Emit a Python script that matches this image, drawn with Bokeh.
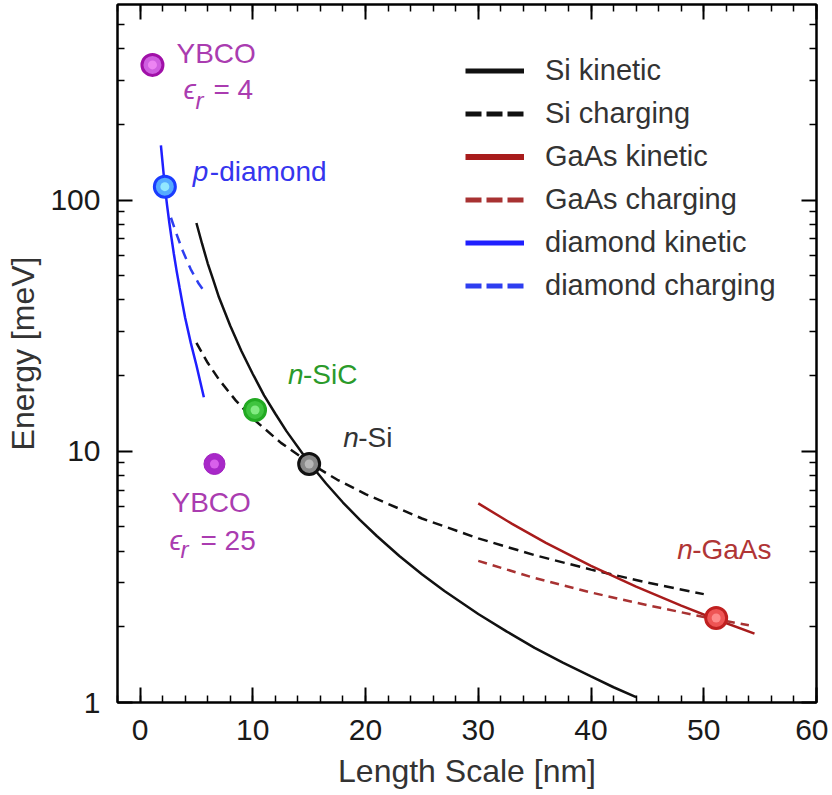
from bokeh.plotting import figure
from bokeh.models import (Range1d, LinearAxis, LogAxis, FixedTicker, SingleIntervalTicker,
                          Legend, LegendItem, ColumnDataSource, PrintfTickFormatter,
                          CustomJSTickFormatter, CustomLabelingPolicy)
from bokeh.core.properties import value
from bokeh.embed import file_html
from bokeh.resources import INLINE

# ---------------- data ----------------
si_kin_x = [5, 5.5, 6, 6.5, 7, 7.5, 8, 9, 10, 11, 12, 13, 15, 16.5, 18, 19.5, 21, 23, 25,
            27, 30, 32.5, 35, 37.5, 40, 42, 44]
si_kin_y = [81, 67, 56, 48, 41, 36, 31.6, 25, 20.3, 16.7, 14.1, 12, 9.0, 7.44, 6.25, 5.33,
            4.6, 3.83, 3.24, 2.78, 2.25, 1.92, 1.65, 1.44, 1.27, 1.15, 1.05]

si_chg_x = [5, 6, 7, 8.5, 10, 12.5, 15, 17.5, 20, 25, 30, 35, 40, 45, 50]
si_chg_y = [27, 22.5, 19.3, 15.9, 13.5, 10.8, 9.0, 7.7, 6.75, 5.4, 4.5, 3.86, 3.38, 3.0, 2.7]

gaas_kin_x = [30, 33, 36, 40, 44, 48, 51, 54.5]
gaas_kin_y = [6.2, 5.14, 4.32, 3.5, 2.89, 2.43, 2.15, 1.88]

gaas_chg_x = [30, 35, 40, 45, 50, 54]
gaas_chg_y = [3.66, 3.13, 2.74, 2.44, 2.19, 2.03]

dia_kin_x = [1.85, 2.2, 2.4, 2.6, 2.8, 3.0, 3.25, 3.5, 3.75, 4.0, 4.5, 5.0, 5.66]
dia_kin_y = [165, 113, 95, 81, 70, 61, 52, 45, 39, 34, 27, 22, 16.4]

dia_chg_x = [2.74, 3.2, 3.8, 4.5, 5.2, 5.66]
dia_chg_y = [85, 74, 62.5, 53, 46.5, 43.5]

pt_names = ["YBCO4", "p-diamond", "n-SiC", "n-Si", "YBCO25", "n-GaAs"]
pt_x = [1.1, 2.2, 10.2, 15.0, 6.6, 51.1]
pt_y = [345, 113, 14.6, 8.9, 8.9, 2.17]

x_major_interval = 10
y_major_ticks = [1, 10, 100]
y_minor_ticks = [2, 3, 4, 5, 6, 7, 8, 9, 20, 30, 40, 50, 60, 70, 80, 90, 200, 300, 400, 500]

legend_labels = ["Si kinetic", "Si charging", "GaAs kinetic", "GaAs charging",
                 "diamond kinetic", "diamond charging"]

# ---------------- styles ----------------
FONT = "Liberation Sans"
C_SI = "#111111"
C_GAAS = "#a81c1c"
C_GAAS_D = "#a83232"
C_DIA = "#1f1fff"
C_DIA_D = "#2e3ef0"

p = figure(width=828, height=794, y_axis_type="log",
           x_range=Range1d(-2, 60), y_range=Range1d(1, 600),
           output_backend="svg", toolbar_location=None,
           min_border_left=117, min_border_top=4, min_border_right=12, min_border_bottom=92,
           background_fill_color="white", border_fill_color="white")
p.xgrid.visible = False
p.ygrid.visible = False
p.outline_line_color = "black"
p.outline_line_width = 2

def style_axis(ax, labels=True):
    ax.axis_line_color = "black"
    ax.axis_line_width = 2
    ax.major_tick_in = 15
    ax.major_tick_out = 0
    ax.minor_tick_in = 7
    ax.minor_tick_out = 0
    ax.major_tick_line_width = 2
    ax.minor_tick_line_width = 1.5
    ax.major_tick_line_color = "black"
    ax.minor_tick_line_color = "black"
    if labels:
        ax.major_label_text_font = FONT
        ax.major_label_text_font_size = "30px"
        ax.major_label_text_color = "#1a1a1a"
        ax.axis_label_text_font = FONT
        ax.axis_label_text_font_size = "32px"
        ax.axis_label_text_font_style = "normal"
        ax.axis_label_text_color = "#333333"
    else:
        ax.formatter = CustomJSTickFormatter(code="return ''")
        ax.major_label_policy = CustomLabelingPolicy(code="""
            try { for (let i = 0; i < indices.size; i++) indices.unset(i) } catch (e) {}
            return indices
        """)
        ax.major_label_text_font_size = "1px"
        ax.major_label_text_alpha = 0
        ax.major_label_standoff = 0

p.xaxis.ticker = SingleIntervalTicker(interval=x_major_interval, num_minor_ticks=5)
p.yaxis.ticker = FixedTicker(ticks=y_major_ticks, minor_ticks=y_minor_ticks)
p.yaxis.formatter = PrintfTickFormatter(format="%d")
p.xaxis.axis_label = "Length Scale [nm]"
p.yaxis.axis_label = "Energy [meV]"
style_axis(p.xaxis[0])
style_axis(p.yaxis[0])
p.xaxis.major_label_standoff = 17
p.xaxis.axis_label_standoff = 10
p.yaxis.major_label_standoff = 17
p.yaxis.axis_label_standoff = 6

top = LinearAxis(ticker=SingleIntervalTicker(interval=x_major_interval, num_minor_ticks=5))
style_axis(top, labels=False)
p.add_layout(top, "above")
right = LogAxis(ticker=FixedTicker(ticks=y_major_ticks, minor_ticks=y_minor_ticks))
style_axis(right, labels=False)
p.add_layout(right, "right")

# ---------------- curves ----------------
p.line(si_kin_x, si_kin_y, line_color=C_SI, line_width=2.5)
p.line(si_chg_x, si_chg_y, line_color=C_SI, line_width=2.5, line_dash="10 6")
p.line(gaas_kin_x, gaas_kin_y, line_color=C_GAAS, line_width=2.5)
p.line(gaas_chg_x, gaas_chg_y, line_color=C_GAAS_D, line_width=2.5, line_dash="9 6")
p.line(dia_kin_x, dia_kin_y, line_color=C_DIA, line_width=2.5)
p.line(dia_chg_x, dia_chg_y, line_color=C_DIA_D, line_width=2.5, line_dash="10 7")

# ---------------- points ----------------
pt_line = ["#a010a8", "#1a3cff", "#22aa22", "#111111", "#a020c0", "#c02020"]
pt_fill = ["#cf5fe0", "#55aaff", "#3fc43f", "#888888", "#a828c8", "#ee5555"]
pt_hi = ["#ee88f4", "#99eeff", "#8af08a", "#bbbbbb", "#dd66ee", "#ff9090"]
pt_lw = [3, 3, 3, 3, 1, 3]
pts = ColumnDataSource(dict(x=pt_x, y=pt_y, lc=pt_line, fc=pt_fill, hc=pt_hi, lw=pt_lw))
p.scatter("x", "y", source=pts, size=21, fill_color="fc", line_color="lc", line_width="lw")
p.scatter("x", "y", source=pts, size=9, fill_color="hc", line_color=None, fill_alpha=0.9)

# ---------------- labels ----------------
C_YB = "#aa3cb0"
lab_idx, lab_txt, lab_dx, lab_dy, lab_style, lab_col, lab_size = [], [], [], [], [], [], []
def add(i, t, dx, dy, style, col, size="28px"):
    lab_idx.append(i); lab_txt.append(t); lab_dx.append(dx); lab_dy.append(dy - 10)
    lab_style.append(style); lab_col.append(col); lab_size.append(size)

# YBCO eps=4
add(0, "YBCO", 24, -1, "normal", C_YB)
add(0, "ϵ", 31, 35, "italic", C_YB)
add(0, "r", 43, 46, "italic", C_YB, "24px")
add(0, "= 4", 61, 35, "normal", C_YB)
# p-diamond
add(1, "p", 28, -5, "italic", "#3535ee")
add(1, "-diamond", 45, -5, "normal", "#3535ee")
# n-SiC
add(2, "n", 33, -25, "italic", "#2a9a2a")
add(2, "-SiC", 48, -25, "normal", "#2a9a2a")
# n-Si
add(3, "n", 34, -16, "italic", "#333333")
add(3, "-Si", 49, -16, "normal", "#333333")
# YBCO eps=25
add(4, "YBCO", -43, 49, "normal", C_YB)
add(4, "ϵ", -45, 87, "italic", C_YB)
add(4, "r", -34, 96, "italic", C_YB, "24px")
add(4, "= 25", -14, 87, "normal", C_YB)
# n-GaAs
add(5, "n", -39, -58, "italic", "#b03535")
add(5, "-GaAs", -24, -58, "normal", "#b03535")

labs = ColumnDataSource(dict(x=[pt_x[i] for i in lab_idx], y=[pt_y[i] for i in lab_idx],
                             t=lab_txt, dx=lab_dx, dy=lab_dy, st=lab_style, c=lab_col, s=lab_size))
p.text("x", "y", text="t", source=labs, x_offset="dx", y_offset="dy",
       text_font=value(FONT), text_font_style="st", text_color="c", text_font_size="s",
       text_baseline="alphabetic", text_align="left")

# ---------------- legend ----------------
nan = float("nan")
leg_r = [
    p.line([nan], [nan], line_color=C_SI, line_width=5),
    p.line([nan], [nan], line_color=C_SI, line_width=5, line_dash="16 5"),
    p.line([nan], [nan], line_color=C_GAAS, line_width=6),
    p.line([nan], [nan], line_color=C_GAAS_D, line_width=5, line_dash="16 5"),
    p.line([nan], [nan], line_color=C_DIA, line_width=5),
    p.line([nan], [nan], line_color=C_DIA_D, line_width=5, line_dash="16 5"),
]
legend = Legend(items=[LegendItem(label=l, renderers=[r]) for l, r in zip(legend_labels, leg_r)],
                location=(348, 395), glyph_width=59, glyph_height=43, label_height=43,
                label_standoff=21, spacing=0, padding=0, margin=0,
                border_line_color=None, background_fill_alpha=0,
                label_text_font=FONT, label_text_font_size="29px", label_text_color="#333333")
p.add_layout(legend)

open("out.html", "w").write(file_html(p, INLINE))
